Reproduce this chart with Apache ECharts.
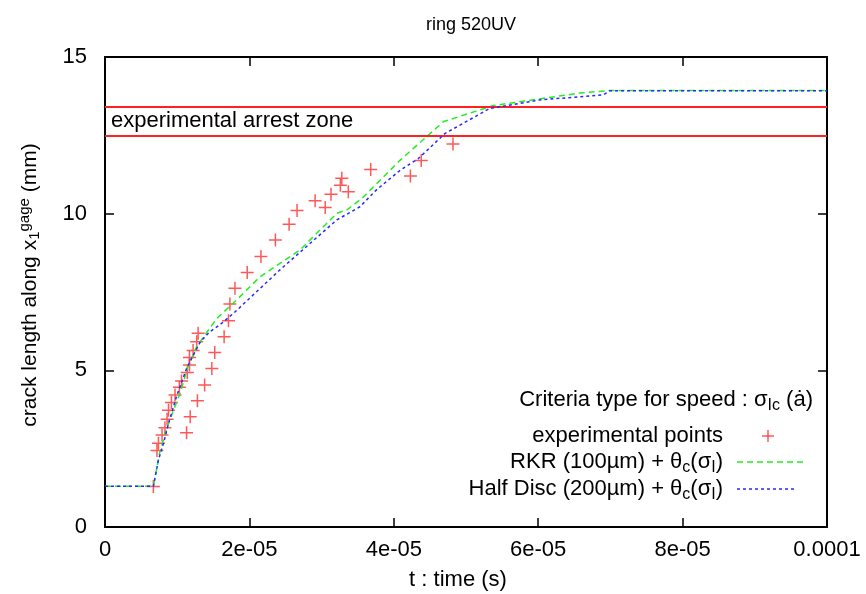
<!DOCTYPE html>
<html>
<head>
<meta charset="utf-8">
<script src="https://cdn.jsdelivr.net/npm/echarts@6/dist/echarts.min.js"></script>
<style>
html, body { margin: 0; padding: 0; background: #fff; }
#chart { width: 866px; height: 594px; }
</style>
</head>
<body>
<div id="chart"></div>
<script>
var FONT = '"Liberation Sans", Helvetica, Arial, sans-serif';

// time in microseconds (axis labelled in seconds), crack length in mm
var expTime = [6.7, 7.2, 7.4, 7.9, 8.3, 8.6, 8.8, 9.2, 9.7, 10.3, 10.6, 11.4, 11.7, 11.7, 12.2, 12.7, 12.9,
    11.3, 11.8, 12.8, 13.8, 14.8, 15.2, 16.5, 17.1, 17.3, 18.0, 19.7, 21.6, 23.6, 25.5, 26.6, 29.1, 30.5,
    31.3, 32.8, 32.6, 33.7, 36.8, 42.3, 43.8, 48.2];
var expLength = [1.29, 2.44, 2.67, 2.94, 3.17, 3.44, 3.73, 3.97, 4.21, 4.46, 4.66, 4.93, 5.17, 5.41, 5.63, 5.91, 6.18,
    3.01, 3.52, 4.03, 4.53, 5.06, 5.57, 6.07, 6.58, 7.12, 7.62, 8.12, 8.63, 9.16, 9.66, 10.10, 10.41, 10.20,
    10.62, 11.13, 10.91, 10.70, 11.41, 11.20, 11.70, 12.22];

var rkrTime = [0, 6.7, 7.6, 8.8, 10.4, 11.5, 12.7, 15.5, 18.2, 21.5, 27.0, 32.1, 33.5, 35.6, 37.2, 40.9, 46.9, 53.8, 65.8, 69.9, 100];
var rkrLength = [1.3, 1.3, 2.4, 3.31, 4.27, 5.12, 5.76, 6.66, 7.24, 7.99, 8.84, 10.01, 10.12, 10.49, 10.86, 11.71, 12.94, 13.45, 13.85, 13.93, 13.93];

var discTime = [0, 6.7, 7.4, 8.1, 8.8, 9.9, 11.3, 12.0, 13.2, 14.5, 15.9, 17.8, 24.2, 32.1, 35.3, 37.6, 40.9, 43.4, 47.1, 53.3, 60.2, 69.0, 69.9, 100];
var discLength = [1.3, 1.3, 2.14, 2.67, 3.31, 4.16, 5.06, 5.38, 5.91, 6.23, 6.45, 6.82, 8.2, 9.8, 10.22, 10.76, 11.39, 11.76, 12.56, 13.36, 13.63, 13.79, 13.92, 13.92];

var arrestZone = [12.5, 13.4];

var xTickLabels = ['0', '2e-05', '4e-05', '6e-05', '8e-05', '0.0001'];
var yTickLabels = ['0', '5', '10', '15'];

function zip(xs, ys) {
    var out = [];
    for (var i = 0; i < xs.length; i++) {
        out.push([xs[i], ys[i]]);
    }
    return out;
}

var RED = '#ff2020';
var GREEN = '#22ee22';
var BLUE = '#2828ff';

var rich = {
    n: {fontFamily: FONT, fontSize: 22, color: '#000'},
    sub: {fontFamily: FONT, fontSize: 16, color: '#000', padding: [11, 0, 0, 0]},
    sup: {fontFamily: FONT, fontSize: 16, color: '#000', padding: [0, 0, 10, 0]}
};
var richY = {
    n: {fontFamily: FONT, fontSize: 21, color: '#000'},
    sub: {fontFamily: FONT, fontSize: 15, color: '#000', padding: [10, 0, 0, 0]},
    sup: {fontFamily: FONT, fontSize: 15, color: '#000', padding: [0, 0, 10, 0]}
};

function baseAxis(pos, showLabel) {
    return {
        type: 'value',
        position: pos,
        axisLine: {show: true, onZero: false, lineStyle: {color: '#000', width: 2}},
        axisTick: {show: true, inside: true, length: 9, lineStyle: {color: '#000', width: 1.5}},
        splitLine: {show: false},
        axisLabel: {show: showLabel}
    };
}

var xBottom = baseAxis('bottom', true);
xBottom.min = 0; xBottom.max = 100; xBottom.interval = 20;
xBottom.axisLabel = {
    show: true, margin: 12, color: '#000', fontFamily: FONT, fontSize: 22,
    formatter: function (v) { return xTickLabels[Math.round(v / 20)]; }
};
var xTop = baseAxis('top', false);
xTop.min = 0; xTop.max = 100; xTop.interval = 20;

var yLeft = baseAxis('left', true);
yLeft.min = 0; yLeft.max = 15; yLeft.interval = 5;
yLeft.axisLabel = {
    show: true, margin: 18, color: '#000', fontFamily: FONT, fontSize: 22,
    formatter: function (v) { return yTickLabels[Math.round(v / 5)]; }
};
var yRight = baseAxis('right', false);
yRight.min = 0; yRight.max = 15; yRight.interval = 5;

var myChart = echarts.init(document.getElementById('chart'), null, {renderer: 'canvas'});
myChart.setOption({
    backgroundColor: '#fff',
    animation: false,
    title: {
        text: 'ring 520UV',
        left: 466, top: 11, textAlign: 'center',
        textStyle: {fontFamily: FONT, fontSize: 18, fontWeight: 'normal', color: '#000'}
    },
    grid: {left: 105, right: 39, top: 57, bottom: 67, containLabel: false},
    xAxis: [xBottom, xTop],
    yAxis: [yLeft, yRight],
    series: [
        {
            name: 'experimental points',
            type: 'scatter',
            data: zip(expTime, expLength),
            symbol: 'path://M0,6L12,6M6,0L6,12',
            symbolSize: 13,
            itemStyle: {color: 'rgba(0,0,0,0)', borderColor: RED, borderWidth: 1.5, opacity: 0.75},
            markLine: {
                silent: true,
                symbol: 'none',
                label: {show: false},
                lineStyle: {color: RED, width: 2, type: 'solid'},
                data: [{yAxis: arrestZone[0]}, {yAxis: arrestZone[1]}]
            },
            z: 3
        },
        {
            name: 'RKR',
            type: 'line',
            data: zip(rkrTime, rkrLength),
            showSymbol: false,
            lineStyle: {color: GREEN, width: 1.5, type: [6, 4]},
            z: 4
        },
        {
            name: 'Half Disc',
            type: 'line',
            data: zip(discTime, discLength),
            showSymbol: false,
            lineStyle: {color: BLUE, width: 1.5, type: [3, 3]},
            z: 5
        }
    ],
    graphic: [
        {
            type: 'text', x: 111, y: 121,
            style: {text: 'experimental arrest zone', font: '22px ' + FONT, fill: '#000', textVerticalAlign: 'middle'}
        },
        {
            type: 'text', x: 458, y: 580,
            style: {text: 't : time (s)', font: '22px ' + FONT, fill: '#000', textAlign: 'center', textVerticalAlign: 'middle'}
        },
        {
            type: 'text', x: 30, y: 285, rotation: Math.PI / 2,
            style: {
                text: '{n|crack length along x}{sub|1}{sup|gage}{n| (mm)}',
                rich: richY, textAlign: 'center', textVerticalAlign: 'middle'
            }
        },
        {
            type: 'text', x: 813, y: 400,
            style: {
                text: '{n|Criteria type for speed : σ}{sub|Ic}{n| (ȧ)}',
                rich: rich, textAlign: 'right', textVerticalAlign: 'middle'
            }
        },
        {
            type: 'text', x: 723, y: 436,
            style: {text: '{n|experimental points}', rich: rich, textAlign: 'right', textVerticalAlign: 'middle'}
        },
        {
            type: 'text', x: 723, y: 462,
            style: {
                text: '{n|RKR (100µm) + θ}{sub|c}{n|(σ}{sub|I}{n|)}',
                rich: rich, textAlign: 'right', textVerticalAlign: 'middle'
            }
        },
        {
            type: 'text', x: 723, y: 489,
            style: {
                text: '{n|Half Disc (200µm) + θ}{sub|c}{n|(σ}{sub|I}{n|)}',
                rich: rich, textAlign: 'right', textVerticalAlign: 'middle'
            }
        },
        {
            type: 'line', shape: {x1: 762, y1: 436, x2: 774, y2: 436},
            style: {stroke: RED, lineWidth: 1.5, opacity: 0.75}
        },
        {
            type: 'line', shape: {x1: 768, y1: 430, x2: 768, y2: 442},
            style: {stroke: RED, lineWidth: 1.5, opacity: 0.75}
        },
        {
            type: 'line', shape: {x1: 737, y1: 462, x2: 803, y2: 462},
            style: {stroke: GREEN, lineWidth: 1.5, lineDash: [6, 4]}
        },
        {
            type: 'line', shape: {x1: 737, y1: 489, x2: 797, y2: 489},
            style: {stroke: BLUE, lineWidth: 1.5, lineDash: [3, 3]}
        }
    ]
});
</script>
</body>
</html>
